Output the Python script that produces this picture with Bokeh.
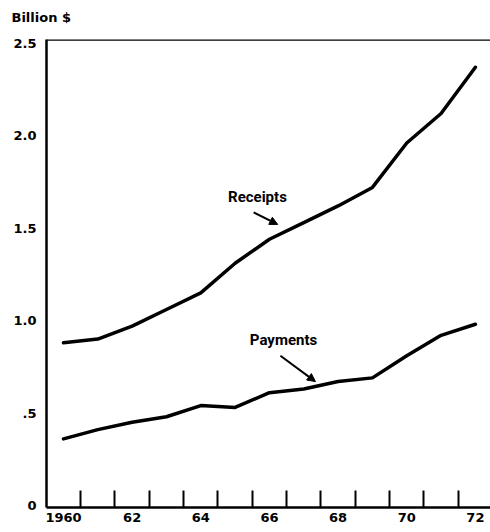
from bokeh.plotting import figure
from bokeh.models import (FixedTicker, Range1d, Span, Label, Arrow, NormalHead)
from bokeh.embed import file_html
from bokeh.resources import INLINE

years = [1960, 1961, 1962, 1963, 1964, 1965, 1966, 1967, 1968, 1969, 1970, 1971, 1972]
receipts = [0.88, 0.90, 0.97, 1.06, 1.15, 1.31, 1.44, 1.53, 1.62, 1.72, 1.96, 2.12, 2.37]
payments = [0.36, 0.41, 0.45, 0.48, 0.54, 0.53, 0.61, 0.63, 0.67, 0.69, 0.81, 0.92, 0.98]

x_label_years = [1960, 1962, 1964, 1966, 1968, 1970, 1972]
x_tick_labels = ["1960", "62", "64", "66", "68", "70", "72"]
x_minor_ticks = [1960.5, 1961.5, 1962.5, 1963.5, 1964.5, 1965.5, 1966.5, 1967.5,
                 1968.5, 1969.5, 1970.5, 1971.5]
y_ticks = [0, 0.5, 1.0, 1.5, 2.0, 2.5]
y_tick_labels = ["0", ".5", "1.0", "1.5", "2.0", "2.5"]
unit_title = "Billion $"

TICK_FONT = "DejaVu Sans"
NOTE_FONT = "Roboto"

p = figure(width=490, height=530, output_backend="svg", toolbar_location=None,
           x_range=Range1d(1959.505, 1972.44), y_range=Range1d(-0.011, 2.52),
           min_border_left=46, min_border_right=0, min_border_top=39, min_border_bottom=23)
p.title.text = unit_title + "\n "
p.title.text_font = TICK_FONT
p.title.text_font_size = "13px"
p.title.text_font_style = "bold"
p.title.text_color = "black"
p.title.text_line_height = 1.0
p.title.align = "left"
p.title.offset = -35
p.title.standoff = 0

p.grid.visible = False
p.outline_line_color = None
p.background_fill_color = "white"
p.border_fill_color = "white"

# x axis
xa = p.xaxis[0]
xa.ticker = FixedTicker(ticks=x_label_years, minor_ticks=x_minor_ticks)
xa.major_label_overrides = {y: l for y, l in zip(x_label_years, x_tick_labels)}
xa.major_tick_line_color = None
xa.major_tick_in = 0
xa.major_tick_out = 0
xa.minor_tick_in = 17
xa.minor_tick_out = 0
xa.minor_tick_line_width = 2
xa.minor_tick_line_color = "black"
xa.axis_line_width = 2.5
xa.axis_line_color = "black"
xa.major_label_text_font = TICK_FONT
xa.major_label_text_font_style = "bold"
xa.major_label_text_font_size = "13px"
xa.major_label_text_color = "black"
xa.major_label_standoff = 5

# y axis
ya = p.yaxis[0]
ya.ticker = FixedTicker(ticks=y_ticks, minor_ticks=[])
ya.major_label_overrides = {v: l for v, l in zip(y_ticks, y_tick_labels)}
ya.major_tick_line_color = None
ya.minor_tick_line_color = None
ya.major_tick_in = 0
ya.major_tick_out = 0
ya.minor_tick_in = 0
ya.minor_tick_out = 0
ya.axis_line_width = 2.5
ya.axis_line_color = "black"
ya.major_label_text_font = TICK_FONT
ya.major_label_text_font_style = "bold"
ya.major_label_text_font_size = "13px"
ya.major_label_text_color = "black"
ya.major_label_standoff = 10

# top border line
p.add_layout(Span(location=2.52, dimension="width", line_color="black", line_width=2.5))

p.line(years, receipts, line_color="black", line_width=3.5, line_join="round", line_cap="round")
p.line(years, payments, line_color="black", line_width=3.5, line_join="round", line_cap="round")

p.add_layout(Label(x=1965.65, y=1.67, text="Receipts", text_font=NOTE_FONT,
                   text_font_size="15px", text_font_style="bold", text_align="center",
                   text_baseline="middle", text_color="black"))
p.add_layout(Label(x=1966.41, y=0.893, text="Payments", text_font=NOTE_FONT,
                   text_font_size="15px", text_font_style="bold", text_align="center",
                   text_baseline="middle", text_color="black"))

p.add_layout(Arrow(x_start=1965.54, y_start=1.585, x_end=1966.24, y_end=1.52,
                   line_width=2, line_color="black",
                   end=NormalHead(size=8, fill_color="black", line_color="black")))
p.add_layout(Arrow(x_start=1966.32, y_start=0.81, x_end=1967.34, y_end=0.67,
                   line_width=2, line_color="black",
                   end=NormalHead(size=8, fill_color="black", line_color="black")))

open("out.html", "w").write(file_html(p, INLINE))
